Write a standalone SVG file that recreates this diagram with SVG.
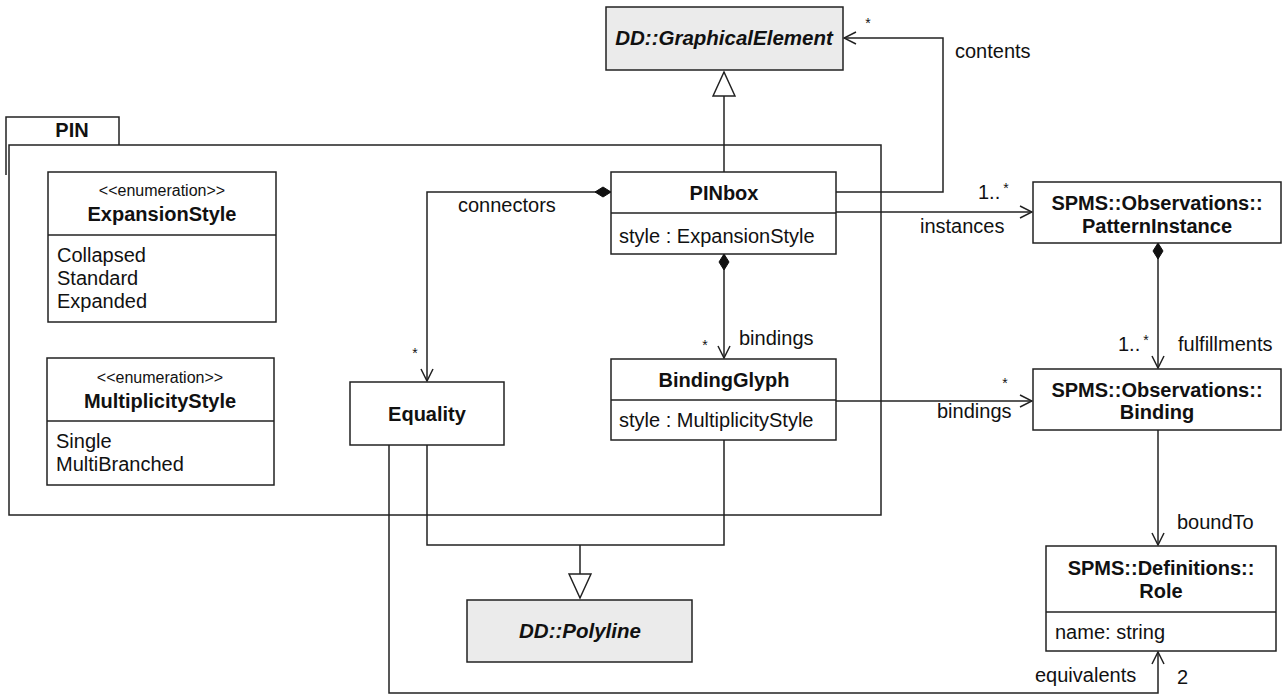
<svg xmlns="http://www.w3.org/2000/svg" width="1284" height="695" viewBox="0 0 1284 695">
<defs>
<style>
.box{fill:#fff;stroke:#222;stroke-width:1.5}
.abs{fill:#ebebeb;stroke:#222;stroke-width:1.5}
.ln{fill:none;stroke:#222;stroke-width:1.5}
text{font-family:"Liberation Sans",Arial,sans-serif;fill:#111}
.t{font-size:20px}
.b{font-size:20px;font-weight:bold}
.bi{font-size:20.5px;font-weight:bold;font-style:italic}
.st{font-size:16px}
.m{font-size:14px}
.c{text-anchor:middle}
</style>
<marker id="open" viewBox="0 0 14 14" refX="13" refY="7" markerWidth="14" markerHeight="14" markerUnits="userSpaceOnUse" orient="auto">
<path d="M1,1 L13,7 L1,13" fill="none" stroke="#222" stroke-width="1.5"/>
</marker>
<marker id="dia" viewBox="0 0 20 12" refX="1" refY="6" markerWidth="20" markerHeight="12" markerUnits="userSpaceOnUse" orient="auto">
<path d="M1,6 L9,1 L17,6 L9,11 Z" fill="#111" stroke="#111" stroke-width="1"/>
</marker>
<marker id="tri" viewBox="0 0 28 24" refX="26" refY="12" markerWidth="28" markerHeight="24" markerUnits="userSpaceOnUse" orient="auto">
<path d="M26,12 L2,1 L2,23 Z" fill="#fff" stroke="#222" stroke-width="1.5"/>
</marker>
</defs>

<g id="package-PIN">
<path class="ln" d="M6,175 V117 H119 V145"/>
<rect class="box" x="9" y="145" width="872" height="370" fill="none"/>
<text class="b" x="72" y="137" text-anchor="middle">PIN</text>
</g>

<g id="connectors">
<path class="ln" d="M724,172 V72" marker-end="url(#tri)"/>
<path class="ln" d="M836,192 H943 V38 H844" marker-end="url(#open)"/>
<path class="ln" d="M611,192 H427 V381" marker-start="url(#dia)" marker-end="url(#open)"/>
<path class="ln" d="M724,254 V358" marker-start="url(#dia)" marker-end="url(#open)"/>
<path class="ln" d="M836,212 H1032" marker-end="url(#open)"/>
<path class="ln" d="M1158,243 V368" marker-start="url(#dia)" marker-end="url(#open)"/>
<path class="ln" d="M836,401 H1032" marker-end="url(#open)"/>
<path class="ln" d="M1158,430 V545" marker-end="url(#open)"/>
<path class="ln" d="M389,445 V693 H1158 V652" marker-end="url(#open)"/>
<path class="ln" d="M427,445 V545 H724 V440"/>
<path class="ln" d="M580,545 V598" marker-end="url(#tri)"/>
</g>

<g id="labels">
<text class="m" x="868" y="28" text-anchor="middle">*</text>
<text class="t" x="955" y="58">contents</text>
<text class="t" x="458" y="212">connectors</text>
<text class="m" x="415" y="358" text-anchor="middle">*</text>
<text class="m" x="705" y="350" text-anchor="middle">*</text>
<text class="t" x="739" y="345">bindings</text>
<text class="t" x="978" y="199">1..</text>
<text class="m" x="1006" y="193" text-anchor="middle">*</text>
<text class="t" x="920" y="233">instances</text>
<text class="t" x="1118" y="351">1..</text>
<text class="m" x="1146" y="345" text-anchor="middle">*</text>
<text class="t" x="1178" y="351">fulfillments</text>
<text class="m" x="1005" y="388" text-anchor="middle">*</text>
<text class="t" x="937" y="418">bindings</text>
<text class="t" x="1177" y="529">boundTo</text>
<text class="t" x="1035" y="682">equivalents</text>
<text class="t" x="1177" y="684">2</text>
</g>

<g id="GraphicalElement">
<rect class="abs" x="606" y="7" width="237" height="63"/>
<text class="bi c" x="724" y="45">DD::GraphicalElement</text>
</g>

<g id="ExpansionStyle">
<rect class="box" x="48" y="172" width="228" height="150"/>
<line class="ln" x1="48" y1="235" x2="276" y2="235"/>
<text class="st c" x="162" y="196">&lt;&lt;enumeration&gt;&gt;</text>
<text class="b c" x="162" y="221">ExpansionStyle</text>
<text class="t" x="57" y="262">Collapsed</text>
<text class="t" x="57" y="285">Standard</text>
<text class="t" x="57" y="308">Expanded</text>
</g>

<g id="MultiplicityStyle">
<rect class="box" x="47" y="358" width="227" height="127"/>
<line class="ln" x1="47" y1="421" x2="274" y2="421"/>
<text class="st c" x="160" y="383">&lt;&lt;enumeration&gt;&gt;</text>
<text class="b c" x="160" y="408">MultiplicityStyle</text>
<text class="t" x="56" y="448">Single</text>
<text class="t" x="56" y="471">MultiBranched</text>
</g>

<g id="PINbox">
<rect class="box" x="611" y="172" width="225" height="82"/>
<line class="ln" x1="611" y1="213" x2="836" y2="213"/>
<text class="b c" x="724" y="200">PINbox</text>
<text class="t" x="619" y="243">style : ExpansionStyle</text>
</g>

<g id="BindingGlyph">
<rect class="box" x="611" y="359" width="225" height="81"/>
<line class="ln" x1="611" y1="400" x2="836" y2="400"/>
<text class="b c" x="724" y="387">BindingGlyph</text>
<text class="t" x="619" y="427">style : MultiplicityStyle</text>
</g>

<g id="Equality">
<rect class="box" x="350" y="382" width="154" height="63"/>
<text class="b c" x="427" y="421">Equality</text>
</g>

<g id="Polyline">
<rect class="abs" x="467" y="600" width="225" height="62"/>
<text class="bi c" x="580" y="638">DD::Polyline</text>
</g>

<g id="PatternInstance">
<rect class="box" x="1033" y="182" width="248" height="61"/>
<text class="b c" x="1157" y="210">SPMS::Observations::</text>
<text class="b c" x="1157" y="233">PatternInstance</text>
</g>

<g id="Binding">
<rect class="box" x="1033" y="369" width="248" height="61"/>
<text class="b c" x="1157" y="397">SPMS::Observations::</text>
<text class="b c" x="1157" y="419">Binding</text>
</g>

<g id="Role">
<rect class="box" x="1046" y="546" width="230" height="105"/>
<line class="ln" x1="1046" y1="612" x2="1276" y2="612"/>
<text class="b c" x="1161" y="575">SPMS::Definitions::</text>
<text class="b c" x="1161" y="598">Role</text>
<text class="t" x="1055" y="639">name: string</text>
</g>
</svg>
